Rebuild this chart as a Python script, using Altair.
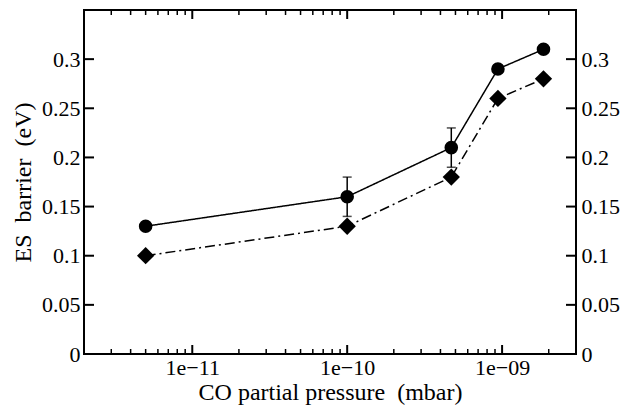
import altair as alt
import pandas as pd

# ---- data ----
pressure = [5e-12, 1e-10, 4.7e-10, 9.4e-10, 1.85e-9]
barrier_circle = [0.13, 0.16, 0.21, 0.29, 0.31]
barrier_diamond = [0.10, 0.13, 0.18, 0.26, 0.28]
err_pressure = [1e-10, 4.7e-10]
err_lo = [0.14, 0.19]
err_hi = [0.18, 0.23]

x_major = [1e-11, 1e-10, 1e-9]
x_major_labels = ["1e\u221211", "1e\u221210", "1e\u221209"]
x_minor = [3e-12, 4e-12, 5e-12, 6e-12, 7e-12, 8e-12, 9e-12,
           2e-11, 3e-11, 4e-11, 5e-11, 6e-11, 7e-11, 8e-11, 9e-11,
           2e-10, 3e-10, 4e-10, 5e-10, 6e-10, 7e-10, 8e-10, 9e-10,
           2e-9]
y_ticks = [0, 0.05, 0.1, 0.15, 0.2, 0.25, 0.3]

W, H = 492, 344
FONT = "Liberation Serif"
LSIZE = 22

df = pd.DataFrame({
    "p": pressure * 2,
    "v": barrier_circle + barrier_diamond,
    "s": ["circle"] * len(pressure) + ["diamond"] * len(pressure),
})
err = pd.DataFrame({"p": err_pressure, "lo": err_lo, "hi": err_hi})
xmaj = pd.DataFrame({"p": x_major})
xmin = pd.DataFrame({"p": x_minor})
yt = pd.DataFrame({"v": y_ticks})

label_expr = " : ".join(
    f"abs(log(datum.value)/log(10) - ({i})) < 0.01 ? '{l}'"
    for i, l in zip([-11, -10, -9], x_major_labels)
) + " : ''"

xscale = alt.Scale(type="log", domain=[2e-12, 3e-9], nice=False)
yscale = alt.Scale(domain=[0, 0.35], nice=False, zero=False)

xaxis = alt.Axis(values=x_major, labelExpr=label_expr, ticks=False, domain=False,
                 grid=False, labelFont=FONT, labelFontSize=LSIZE, labelColor="black",
                 labelPadding=3, title="CO partial pressure\u00a0\u00a0(mbar)",
                 titleFont=FONT, titleFontSize=24, titleFontWeight="normal",
                 titleColor="black", titlePadding=2)
yaxis = alt.Axis(values=y_ticks, format="~g", ticks=False, domain=False, grid=False,
                 labelFont=FONT, labelFontSize=LSIZE, labelColor="black", labelPadding=4,
                 title="ES\u00a0\u00a0barrier\u00a0\u00a0(eV)", titleFont=FONT,
                 titleFontSize=24, titleFontWeight="normal", titleColor="black",
                 titlePadding=6)

X = alt.X("p:Q", scale=xscale, axis=xaxis)
Y = alt.Y("v:Q", scale=yscale, axis=yaxis)

lines = alt.Chart(df).mark_line(color="black", strokeWidth=1.5).encode(
    x=X, y=Y,
    strokeDash=alt.StrokeDash("s:N", scale=alt.Scale(domain=["circle", "diamond"],
                                                     range=[[1, 0], [10, 4, 2, 4]]),
                              legend=None),
)
points = alt.Chart(df).mark_point(filled=True, opacity=1, color="black").encode(
    x=X, y=Y,
    shape=alt.Shape("s:N", scale=alt.Scale(domain=["circle", "diamond"],
                                           range=["circle", "diamond"]), legend=None),
    size=alt.Size("s:N", scale=alt.Scale(domain=["circle", "diamond"], range=[185, 300]),
                  legend=None),
)
err_rule = alt.Chart(err).mark_rule(color="black", strokeWidth=1.5).encode(
    x="p:Q", y=alt.Y("lo:Q"), y2="hi:Q")
err_cap_lo = alt.Chart(err).mark_tick(color="black", orient="horizontal", size=9,
                                      thickness=1.5).encode(x="p:Q", y="lo:Q")
err_cap_hi = alt.Chart(err).mark_tick(color="black", orient="horizontal", size=9,
                                      thickness=1.5).encode(x="p:Q", y="hi:Q")

def xticks(data, length, width):
    bot = alt.Chart(data).mark_rule(color="black", strokeWidth=width).encode(
        x="p:Q", y=alt.value(H), y2=alt.value(H - length))
    top = alt.Chart(data).mark_rule(color="black", strokeWidth=width).encode(
        x="p:Q", y=alt.value(0), y2=alt.value(length))
    return bot + top

yt_left = alt.Chart(yt).mark_rule(color="black", strokeWidth=2).encode(
    y="v:Q", x=alt.value(0), x2=alt.value(10))

main = alt.layer(lines, err_rule, err_cap_lo, err_cap_hi, points,
                 xticks(xmaj, 9, 2), xticks(xmin, 5, 1.5), yt_left)

right = alt.Chart(yt).mark_rule(color="black", strokeWidth=2).encode(
    y=alt.Y("v:Q", scale=yscale,
            axis=alt.Axis(orient="right", values=y_ticks, format="~g", ticks=False,
                          domain=False, grid=False, labelFont=FONT, labelFontSize=LSIZE,
                          labelColor="black", labelPadding=5, title=None)),
    x=alt.value(W), x2=alt.value(W - 10))

chart = alt.layer(main, right).resolve_scale(y="independent").properties(
    width=W, height=H,
    background="white",
    autosize=alt.AutoSizeParams(type="none"),
    padding={"left": 76, "top": 2, "right": 49, "bottom": 52},
).configure(font=FONT).configure_axis(labelFont=FONT, titleFont=FONT).configure_view(
    stroke="black", strokeWidth=2)

chart.save("out.html", embed_options={"renderer": "svg", "actions": False})
